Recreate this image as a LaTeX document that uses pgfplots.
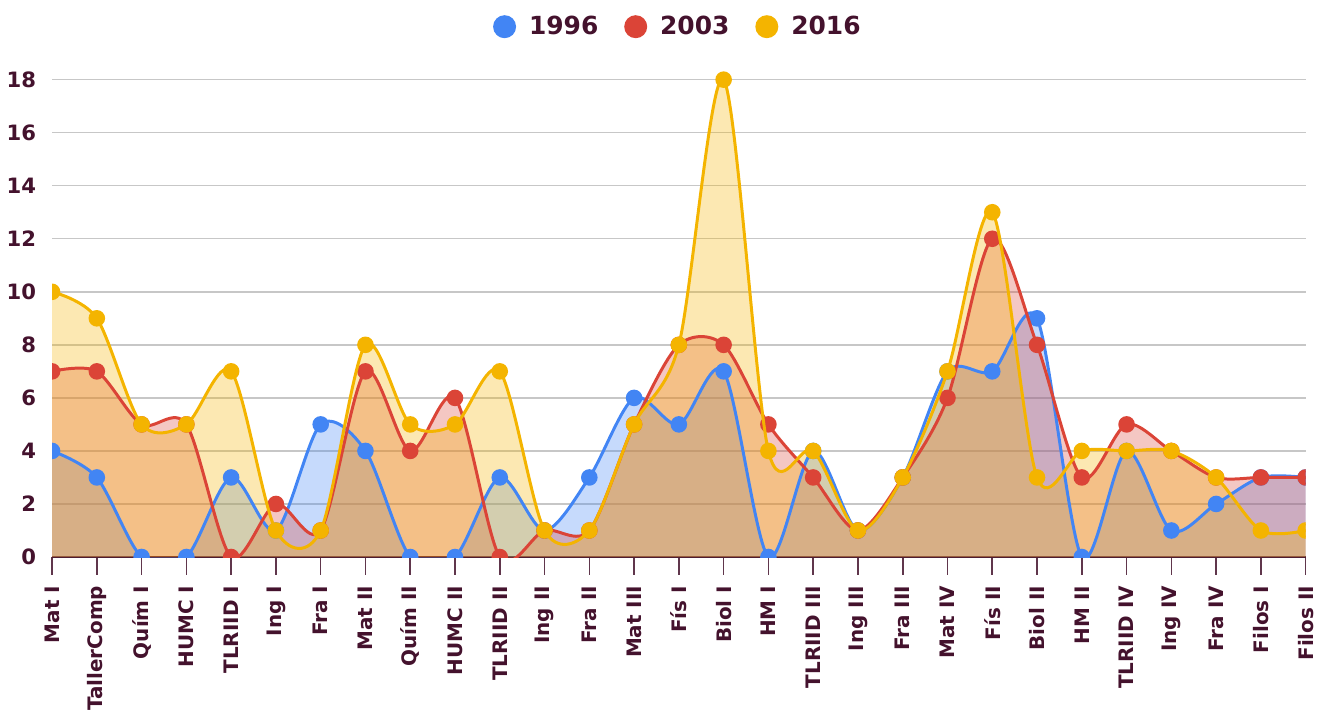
\documentclass[border=0pt]{standalone}
\usepackage{fontspec}
\setmainfont{DejaVu Sans}
\usepackage{pgfplots}
\usepackage{pgfplotstable}
\pgfplotsset{compat=1.18}
\definecolor{cA}{RGB}{66,133,244}
\definecolor{cB}{RGB}{219,68,55}
\definecolor{cC}{RGB}{244,180,0}
\definecolor{txt}{RGB}{68,18,45}

\pgfplotstableread{
x y96 y03 y16
0 4 7 10
1 3 7 9
2 0 5 5
3 0 5 5
4 3 0 7
5 1 2 1
6 5 1 1
7 4 7 8
8 0 4 5
9 0 6 5
10 3 0 7
11 1 1 1
12 3 1 1
13 6 5 5
14 5 8 8
15 7 8 18
16 0 5 4
17 4 3 4
18 1 1 1
19 3 3 3
20 7 6 7
21 7 12 13
22 9 8 3
23 0 3 4
24 4 5 4
25 1 4 4
26 2 3 3
27 3 3 1
28 3 3 1
}\data

\begin{document}
\begin{tikzpicture}
\begin{axis}[
  scale only axis,
  width=629pt, height=247.5pt,
  xmin=0, xmax=28, ymin=0, ymax=18.6,
  xtick={0,...,28},
  xticklabels={Mat I,TallerComp,Quím I,HUMC I,TLRIID I,Ing I,Fra I,Mat II,Quím II,HUMC II,TLRIID II,Ing II,Fra II,Mat III,Fís I,Biol I,HM I,TLRIID III,Ing III,Fra III,Mat IV,Fís II,Biol II,HM II,TLRIID IV,Ing IV,Fra IV,Filos I,Filos II},
  x tick label style={rotate=90, anchor=east, font=\fontsize{10}{12}\selectfont\bfseries, text=txt},
  xticklabel shift={2pt},
  ytick={0,2,...,18},
  y tick label style={font=\fontsize{10.6}{12}\selectfont\bfseries, text=txt, xshift=4.5pt},
  /pgf/number format/assume math mode=true,
  axis x line*=bottom, axis y line*=left,
  y axis line style={draw=none},
  x axis line style={draw=txt, line width=1pt},
  xtick style={draw=txt!85, line width=0.8pt},
  ytick style={draw=none},
  tick align=outside, major tick length=9pt,
  ymajorgrids, grid style={draw=black!22, line width=0.7pt},
  clip marker paths=true,
  legend columns=3,
  legend style={at={(0.5,1)}, anchor=south, yshift=5pt, inner ysep=6pt, draw=none,
    font=\fontsize{12.5}{14}\selectfont\bfseries, text=txt,
    /tikz/every even column/.append style={column sep=11pt}},
]
\addplot[draw=none, fill=cA, fill opacity=0.3, smooth, tension=0.5, forget plot] table[x=x,y=y96]{\data} \closedcycle;
\addplot[draw=none, fill=cB, fill opacity=0.3, smooth, tension=0.5, forget plot] table[x=x,y=y03]{\data} \closedcycle;
\addplot[draw=none, fill=cC, fill opacity=0.3, smooth, tension=0.5, forget plot] table[x=x,y=y16]{\data} \closedcycle;
\addplot[cA, line width=1.5pt, smooth, tension=0.5, mark=*, mark size=3.4pt,
  legend image code/.code={\fill[cA] (0,0) circle (5pt); \path (9.5pt,0);}] table[x=x,y=y96]{\data};
\addplot[cB, line width=1.5pt, smooth, tension=0.5, mark=*, mark size=3.4pt,
  legend image code/.code={\fill[cB] (0,0) circle (5pt); \path (9.5pt,0);}] table[x=x,y=y03]{\data};
\addplot[cC, line width=1.5pt, smooth, tension=0.5, mark=*, mark size=3.4pt,
  legend image code/.code={\fill[cC] (0,0) circle (5pt); \path (9.5pt,0);}] table[x=x,y=y16]{\data};
\legend{1996,2003,2016}
\end{axis}
\end{tikzpicture}
\end{document}
